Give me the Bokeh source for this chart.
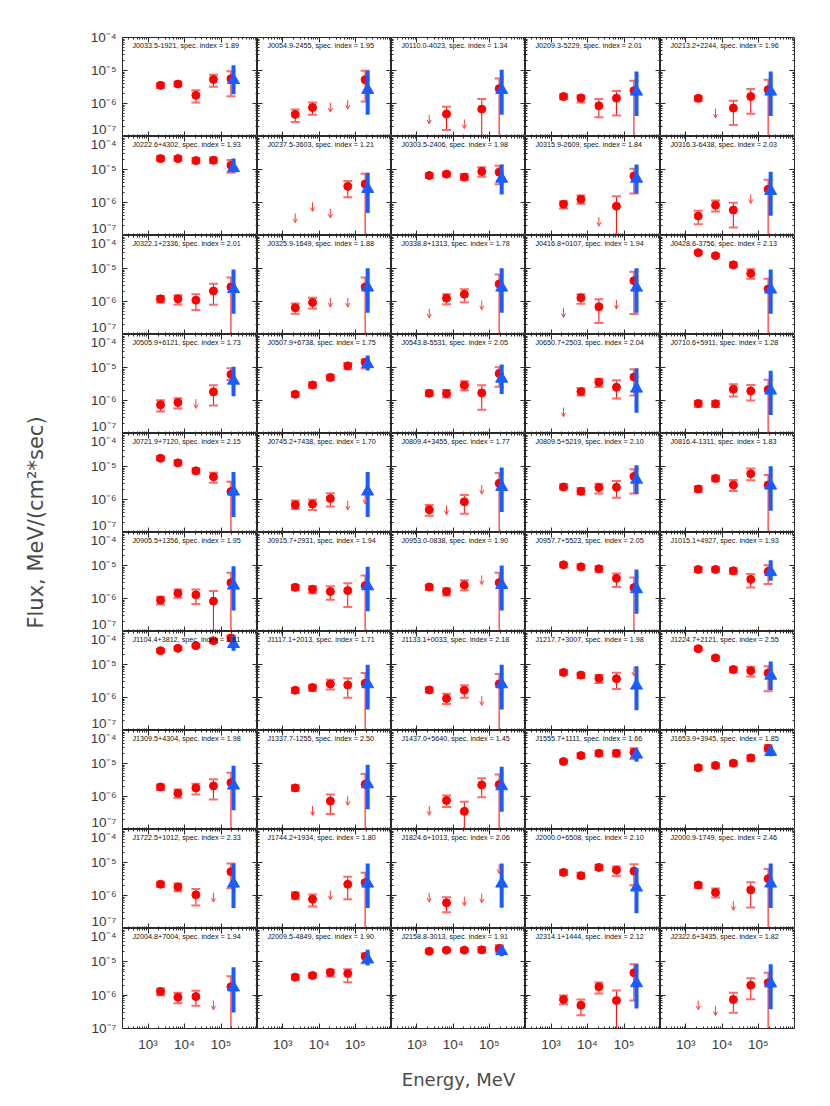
import math
from bokeh.plotting import figure
from bokeh.models import (Range1d, LogAxis, FixedTicker, CustomJSTickFormatter,
                          ColumnDataSource, Label, Arrow, OpenHead)
from bokeh.layouts import gridplot, row, column
from bokeh.embed import file_html
from bokeh.resources import INLINE

N = None     # no value
Z = -9.0     # error bar reaching zero (below the axis)

sources = ["J0033.5-1921", "J0054.9-2455", "J0110.0-4023", "J0209.3-5229", "J0213.2+2244",
           "J0222.6+4302", "J0237.5-3603", "J0303.5-2406", "J0315.9-2609", "J0316.3-6438",
           "J0322.1+2336", "J0325.9-1649", "J0338.8+1313", "J0416.8+0107", "J0428.6-3756",
           "J0505.9+6121", "J0507.9+6738", "J0543.8-5531", "J0650.7+2503", "J0710.6+5911",
           "J0721.9+7120", "J0745.2+7438", "J0809.4+3455", "J0809.5+5219", "J0816.4-1311",
           "J0905.5+1356", "J0915.7+2931", "J0953.0-0838", "J0957.7+5523", "J1015.1+4927",
           "J1104.4+3812", "J1117.1+2013", "J1133.1+0033", "J1217.7+3007", "J1224.7+2121",
           "J1309.5+4304", "J1337.7-1255", "J1437.0+5640", "J1555.7+1111", "J1653.9+3945",
           "J1722.5+1012", "J1744.2+1934", "J1824.6+1013", "J2000.0+6508", "J2000.9-1749",
           "J2004.8+7004", "J2009.5-4849", "J2158.8-3013", "J2314.1+1444", "J2322.6+3435"]
spec_index = [1.89, 1.95, 1.34, 2.01, 1.96, 1.93, 1.21, 1.98, 1.84, 2.03,
              2.01, 1.88, 1.78, 1.94, 2.13, 1.73, 1.75, 2.05, 2.04, 1.28,
              2.15, 1.70, 1.77, 2.10, 1.83, 1.95, 1.94, 1.90, 2.05, 1.93,
              1.81, 1.71, 2.18, 1.98, 2.55, 1.98, 2.50, 1.45, 1.66, 1.85,
              2.33, 1.80, 2.06, 2.10, 2.46, 1.94, 1.90, 1.91, 2.12, 1.82]

energy = [2.2e3, 6.6e3, 2.05e4, 6.2e4, 1.87e5]   # MeV, red points
blue_energy = 2.2e5                              # MeV, blue point

# log10 of flux, MeV/(cm^2*sec)
flux_log = [
    [-5.45, -5.41, -5.75, -5.27, -5.25], [-6.33, -6.12, N, N, -5.28], [N, -6.32, N, -6.17, -5.55],
    [-5.79, -5.83, -6.07, -5.84, -5.61], [-5.84, N, -6.14, -5.79, -5.58],
    [-4.67, -4.67, -4.73, -4.72, -4.87], [N, N, N, -5.51, -5.44], [-5.18, -5.14, -5.23, -5.06, -5.08],
    [-6.05, -5.90, N, -6.11, -5.20], [-6.41, -6.08, -6.23, N, -5.60],
    [-5.92, -5.92, -5.96, -5.68, -5.56], [-6.19, -6.03, N, N, -5.56], [N, -5.90, -5.78, N, -5.47],
    [N, -5.89, -6.16, N, -5.37], [-4.52, -4.61, -4.89, -5.15, -5.62],
    [-6.13, -6.06, N, -5.74, -5.21], [-5.81, -5.53, -5.30, -4.95, -4.84], [-5.78, -5.79, -5.54, -5.77, -5.18],
    [N, -5.73, -5.45, -5.60, -5.29], [-6.09, -6.10, -5.66, -5.71, -5.67],
    [-4.75, -4.89, -5.13, -5.31, -5.76], [-6.16, -6.14, -5.97, N, N], [-6.31, N, -6.07, N, -5.51],
    [-5.62, -5.75, -5.64, -5.63, -5.30], [-5.68, -5.36, -5.56, -5.22, -5.56],
    [-6.05, -5.84, -5.89, -6.08, -5.52], [-5.66, -5.72, -5.79, -5.76, -5.61], [-5.65, -5.79, -5.59, N, -5.52],
    [-4.98, -5.04, -5.10, -5.39, -5.67], [-5.12, -5.12, -5.16, -5.42, -5.18],
    [-4.58, -4.51, -4.43, -4.28, -4.20], [-5.78, -5.70, -5.59, -5.62, -5.57], [-5.77, -6.03, -5.78, N, -5.59],
    [-5.24, -5.32, -5.42, -5.43, N], [-4.52, -4.80, -5.15, -5.19, -5.26],
    [-5.71, -5.90, -5.74, -5.68, -5.58], [-5.74, N, -6.14, N, -5.63], [N, -6.12, -6.45, -5.65, -5.64],
    [-4.94, -4.76, -4.69, -4.69, -4.66], [-5.13, -5.06, -4.99, -4.83, -4.54],
    [-5.66, -5.74, -5.98, N, -5.28], [-6.00, -6.11, N, -5.66, -5.61], [N, -6.22, N, N, N],
    [-5.30, -5.40, -5.15, -5.23, -5.26], [-5.68, -5.91, N, -5.83, -5.49],
    [-5.89, -6.06, -6.04, N, -5.75], [-5.46, -5.41, -5.32, -5.35, -4.84], [-4.68, -4.65, -4.65, -4.64, -4.60],
    [-6.13, -6.30, -5.75, -6.16, -5.33], [N, N, -6.13, -5.70, -5.63],
]
err_lo_log = [
    [-5.53, -5.48, -5.97, -5.49, -5.78], [-6.56, -6.34, N, N, -5.94], [N, -6.80, N, Z, Z],
    [-5.87, -5.97, -6.42, -6.36, Z], [-5.93, N, -6.65, -6.31, Z],
    [-4.74, -4.74, -4.81, -4.81, -5.10], [N, N, N, -5.84, Z], [-5.26, -5.21, -5.32, -5.22, -5.45],
    [-6.18, -6.04, N, Z, -5.73], [-6.66, -6.27, -6.76, N, Z],
    [-6.03, -6.09, -6.26, -6.10, Z], [-6.37, -6.21, N, N, Z], [N, -6.08, -6.02, N, Z],
    [N, -6.07, -6.65, N, -6.38], [-4.57, -4.66, -4.96, -5.31, Z],
    [-6.33, -6.24, N, -6.15, -5.38], [-5.89, -5.61, -5.39, -5.05, -5.03], [-5.86, -5.91, -5.69, -6.28, -5.58],
    [N, -5.85, -5.59, -5.94, -5.85], [-6.20, -6.20, -5.88, -6.00, Z],
    [-4.81, -4.96, -5.21, -5.49, Z], [-6.29, -6.32, -6.21, N, N], [-6.49, N, -6.43, N, Z],
    [-5.69, -5.85, -5.82, -5.95, -5.82], [-5.77, -5.45, -5.74, -5.42, Z],
    [-6.18, -5.98, -6.17, Z, Z], [-5.75, -5.84, -6.04, -6.26, Z], [-5.74, -5.91, -5.75, N, Z],
    [-5.05, -5.11, -5.19, -5.65, Z], [-5.20, -5.19, -5.25, -5.67, -5.56],
    [-4.63, -4.56, -4.48, -4.34, -4.27], [-5.86, -5.80, -5.76, -6.01, Z], [-5.85, -6.20, -6.01, N, Z],
    [-5.31, -5.41, -5.56, -5.74, N], [-4.57, -4.86, -5.24, -5.36, -5.81],
    [-5.80, -6.04, -5.94, -6.09, Z], [-5.83, N, -6.53, N, Z], [N, -6.32, Z, -6.02, Z],
    [-4.99, -4.83, -4.77, -4.79, -4.86], [-5.20, -5.13, -5.06, -4.93, -4.64],
    [-5.74, -5.87, -6.30, N, -5.78], [-6.11, -6.33, N, -6.11, Z], [N, -6.51, N, N, N],
    [-5.38, -5.48, -5.23, -5.40, -5.69], [-5.77, -6.06, N, -6.36, Z],
    [-6.00, -6.24, -6.32, N, Z], [-5.53, -5.48, -5.44, -5.61, -5.04], [-4.73, -4.70, -4.70, -4.72, -4.70],
    [-6.27, -6.60, -5.95, Z, -6.16], [N, N, -6.53, -6.12, Z],
]
err_hi_log = [
    [-5.38, -5.34, -5.60, -5.13, -5.02], [-6.18, -5.97, N, N, -5.01], [N, -6.10, N, -5.86, -5.24],
    [-5.72, -5.76, -5.86, -5.62, -5.31], [-5.78, N, -5.92, -5.56, -5.28],
    [-4.59, -4.60, -4.65, -4.64, -4.71], [N, N, N, -5.35, -5.13], [-5.12, -5.08, -5.14, -4.93, -4.89],
    [-5.96, -5.79, N, -5.81, -4.98], [-6.25, -5.94, -6.01, N, -5.31],
    [-5.83, -5.81, -5.78, -5.46, -5.27], [-6.06, -5.89, N, N, -5.27], [N, -5.78, -5.63, N, -5.18],
    [N, -5.78, -5.93, N, -5.10], [-4.47, -4.56, -4.82, -5.02, -5.31],
    [-5.99, -5.93, N, -5.54, -5.02], [-5.74, -5.45, -5.22, -4.86, -4.76], [-5.70, -5.68, -5.42, -5.54, -4.99],
    [N, -5.63, -5.34, -5.39, -5.05], [-6.01, -6.01, -5.51, -5.53, -5.37],
    [-4.69, -4.82, -5.05, -5.19, -5.46], [-6.03, -6.01, -5.81, N, N], [-6.17, N, -5.86, N, -5.20],
    [-5.54, -5.65, -5.52, -5.44, -5.08], [-5.60, -5.28, -5.41, -5.06, -5.26],
    [-5.95, -5.73, -5.73, -5.77, -5.22], [-5.59, -5.63, -5.63, -5.54, -5.30], [-5.58, -5.69, -5.45, N, -5.22],
    [-4.92, -4.97, -5.02, -5.24, -5.36], [-5.05, -5.05, -5.08, -5.26, -4.99],
    [-4.53, -4.46, -4.38, -4.23, -4.12], [-5.71, -5.61, -5.46, -5.42, -5.26], [-5.70, -5.89, -5.63, N, -5.29],
    [-5.17, -5.25, -5.32, -5.25, N], [-4.47, -4.74, -5.08, -5.07, -5.05],
    [-5.64, -5.79, -5.61, -5.48, -5.28], [-5.66, N, -5.94, N, -5.32], [N, -5.97, -6.16, -5.45, -5.33],
    [-4.89, -4.69, -4.61, -4.60, -4.54], [-5.06, -4.99, -4.92, -4.75, -4.44],
    [-5.58, -5.64, -5.80, N, -5.03], [-5.91, -5.97, N, -5.43, -5.31], [N, -6.05, N, N, N],
    [-5.23, -5.31, -5.07, -5.12, -5.05], [-5.61, -5.79, N, -5.60, -5.20],
    [-5.80, -5.93, -5.87, N, -5.43], [-5.39, -5.34, -5.23, -5.22, -4.74], [-4.63, -4.60, -4.60, -4.56, -4.50],
    [-6.01, -6.13, -5.62, -5.86, -5.07], [N, N, -5.93, -5.49, -5.33],
]
# upper limits (log10)
ul_log = {
    1: [N, N, -5.98, -5.89, N], 2: [-6.34, N, -6.48, N, N], 4: [N, -6.16, N, N, N],
    6: [-6.33, -5.99, -6.19, N, N], 8: [N, N, -6.44, N, N], 9: [N, N, N, -5.75, N],
    11: [N, N, -5.89, -5.89, N], 12: [-6.22, N, N, -5.97, N], 13: [-6.20, N, N, -5.95, N],
    15: [N, N, -5.96, N, N], 18: [-6.21, N, N, N, N], 21: [N, N, N, -6.04, -5.85],
    22: [N, -6.18, N, -5.56, N], 27: [N, N, N, -5.30, N], 32: [N, N, N, -5.96, N],
    33: [N, N, N, N, -5.07], 36: [N, -6.29, N, -5.99, N], 37: [-6.29, N, N, N, N],
    40: [N, N, N, -5.92, N], 41: [N, N, -5.85, N, N], 42: [-5.92, N, -6.03, -5.94, -5.05],
    44: [N, N, -6.17, N, N], 45: [N, N, N, -6.16, N], 49: [-6.16, -6.33, N, N, N],
}
# blue point: [value, low end, high end] (log10)
blue_log = [
    [-5.29, -5.72, -4.84], [-5.59, -6.34, -5.01], [-5.59, -6.34, -4.98], [-5.64, -6.38, -5.03], [-5.64, -6.38, -5.03],
    [-4.96, -5.08, -4.67], [-5.59, -6.32, -5.10], [-5.28, -5.76, -4.85], [-5.28, -5.73, -4.85], [-5.65, -6.40, -5.07],
    [-5.62, -6.37, -5.03], [-5.58, -6.34, -4.99], [-5.58, -6.34, -4.99], [-5.58, -6.34, -4.99], [-5.64, -6.37, -5.03],
    [-5.40, -5.87, -4.98], [-4.90, -5.09, -4.64], [-5.34, -5.80, -4.91], [-5.64, -6.37, -5.03], [-5.70, -6.44, -5.10],
    [-5.76, -6.53, -5.17], [-5.76, -6.53, -5.17], [-5.62, -6.38, -5.03], [-5.40, -5.83, -4.96], [-5.58, -6.34, -4.99],
    [-5.61, -6.36, -5.02], [-5.63, -6.39, -5.04], [-5.59, -6.36, -5.00], [-5.72, -6.46, -5.12], [-5.20, -5.46, -4.84],
    [-4.38, -4.58, -4.12], [-5.60, -6.36, -5.01], [-5.60, -6.36, -5.01], [-5.64, -6.39, -5.05], [-5.34, -5.77, -4.91],
    [-5.67, -6.42, -5.07], [-5.63, -6.39, -5.04], [-5.69, -6.46, -5.10], [-4.73, -4.95, -4.60], [-4.65, -4.78, -4.47],
    [-5.64, -6.38, -5.03], [-5.64, -6.38, -5.03], [-5.64, -6.37, -5.03], [-5.76, -6.54, -5.17], [-5.64, -6.38, -5.03],
    [-5.77, -6.52, -5.16], [-4.93, -5.11, -4.64], [-4.68, -4.83, -4.51], [-5.64, -6.40, -5.07], [-5.65, -6.42, -5.07],
]

x_major = [1e3, 1e4, 1e5]
x_minor = [m * 10.0 ** e for e in (2, 3, 4, 5) for m in range(2, 10)]
y_major = [1e-7, 1e-6, 1e-5, 1e-4]
y_minor = [m * 10.0 ** e for e in (-7, -6, -5) for m in range(2, 10)]

RED = "#ff0000"
CAP = "#ff6a6a"
BLUE = "#1a5cff"
AX = "#2a2a2a"
TXT = "#3a3a3a"
FONT = "Liberation Sans"
BIGFONT = "DejaVu Sans"

W = [135, 134, 134, 135, 134]
H = [99] * 9 + [100]
LEFT, TOP, BOTTOM, YLW = 54, 37, 30, 68

SUP_JS = """
const e = Math.round(Math.log10(tick));
const m = {"-":"⁻","0":"⁰","1":"¹","2":"²","3":"³","4":"⁴","5":"⁵","6":"⁶","7":"⁷","8":"⁸","9":"⁹"};
return "10" + String(e).split("").map(c => m[c]).join("");
"""


def style_axis(ax, ticks, minor, show, standoff):
    ax.ticker = FixedTicker(ticks=ticks, minor_ticks=minor)
    ax.axis_line_color = None
    ax.major_tick_in = 5
    ax.major_tick_out = 0
    ax.minor_tick_in = 2
    ax.minor_tick_out = 0
    ax.major_tick_line_color = AX
    ax.minor_tick_line_color = AX
    if show:
        ax.formatter = CustomJSTickFormatter(code=SUP_JS)
        ax.major_label_text_font = FONT
        ax.major_label_text_font_size = "13.5px"
        ax.major_label_text_color = TXT
        ax.major_label_standoff = standoff
    else:
        ax.major_label_text_color = None
        ax.major_label_standoff = 0


def lg(v):
    return 10.0 ** v


panels = []
for i in range(50):
    r, c = divmod(i, 5)
    p = figure(x_axis_type="log", y_axis_type="log",
               x_range=Range1d(2e2, 1e6), y_range=Range1d(1e-7, 1e-4),
               frame_width=W[c], frame_height=H[r],
               min_border_left=LEFT if c == 0 else 0,
               min_border_right=2 if c == 4 else 0,
               min_border_top=TOP if r == 0 else 0,
               min_border_bottom=BOTTOM if r == 9 else 0,
               toolbar_location=None, output_backend="svg",
               background_fill_color="white", border_fill_color="white",
               outline_line_color=AX, outline_line_width=1)
    p.grid.visible = False
    p.add_layout(LogAxis(), "right")
    p.add_layout(LogAxis(), "above")
    style_axis(p.below[0], x_major, x_minor, r == 9, 8)
    style_axis(p.above[0], x_major, x_minor, False, 0)
    style_axis(p.left[0], y_major, y_minor, c == 0, 6)
    style_axis(p.right[0], y_major, y_minor, False, 0)

    # red points with error bars
    xs, ys, los, his = [], [], [], []
    for k in range(5):
        if flux_log[i][k] is not None:
            xs.append(energy[k])
            ys.append(lg(flux_log[i][k]))
            los.append(lg(err_lo_log[i][k]))
            his.append(lg(err_hi_log[i][k]))
    src = ColumnDataSource(dict(x=xs, y=ys, lo=los, hi=his))
    p.segment(x0="x", y0="lo", x1="x", y1="hi", source=src, line_color=RED, line_width=1)
    p.scatter(x="x", y="lo", source=src, marker="dash", size=9, line_color=CAP, line_width=2)
    p.scatter(x="x", y="hi", source=src, marker="dash", size=9, line_color=CAP, line_width=2)
    p.scatter(x="x", y="y", source=src, marker="circle", size=8, fill_color=RED, line_color=RED)

    # upper limits
    if i in ul_log:
        ux, u0, u1 = [], [], []
        for k in range(5):
            if ul_log[i][k] is not None:
                ux.append(energy[k])
                u0.append(lg(ul_log[i][k]))
                u1.append(lg(ul_log[i][k] - 0.28))
        usrc = ColumnDataSource(dict(x=ux, y0=u0, y1=u1))
        p.add_layout(Arrow(x_start="x", y_start="y0", x_end="x", y_end="y1", source=usrc,
                           line_color="#ff3b3b", line_width=1,
                           end=OpenHead(size=4, line_color="#ff3b3b", line_width=1)))

    # blue point
    bsrc = ColumnDataSource(dict(x=[blue_energy], y=[lg(blue_log[i][0])],
                                 lo=[lg(blue_log[i][1])], hi=[lg(blue_log[i][2])]))
    p.segment(x0="x", y0="lo", x1="x", y1="hi", source=bsrc, line_color=BLUE, line_width=4)
    p.scatter(x="x", y="y", source=bsrc, marker="triangle", size=12, fill_color=BLUE, line_color=BLUE)

    p.add_layout(Label(x=10, y=H[r] - 8, x_units="screen", y_units="screen",
                       text=f"{sources[i]}, spec. index = {spec_index[i]:.2f}",
                       text_font=FONT, text_font_size="7.2px", text_color="#111111",
                       text_baseline="middle", text_align="left"))
    panels.append(p)

grid = gridplot(panels, ncols=5, toolbar_location=None)

total_h = TOP + sum(H) + BOTTOM
yl = figure(width=YLW, height=total_h, x_range=Range1d(0, YLW), y_range=Range1d(0, total_h),
            min_border=0, toolbar_location=None, output_backend="svg",
            x_axis_location=None, y_axis_location=None, outline_line_color=None)
yl.grid.visible = False
yl.add_layout(Label(x=35, y=total_h - 522, text="Flux, MeV/(cm²*sec)", angle=math.pi / 2,
                    text_align="center", text_baseline="middle", text_font=BIGFONT,
                    text_font_size="21px", text_color="#4a4a4a"))

XLH = 36
xl = figure(frame_width=sum(W), frame_height=XLH, min_border_left=LEFT, min_border_right=2,
            min_border_top=0, min_border_bottom=0,
            x_range=Range1d(0, 1), y_range=Range1d(0, XLH), toolbar_location=None,
            output_backend="svg", x_axis_location=None, y_axis_location=None,
            outline_line_color=None)
xl.grid.visible = False
xl.add_layout(Label(x=0.5, y=XLH - 21, text="Energy, MeV", text_align="center",
                    text_baseline="middle", text_font=BIGFONT, text_font_size="18px",
                    text_color="#4a4a4a"))

layout = row(yl, column(grid, xl))
open("out.html", "w").write(file_html(layout, INLINE, title="Spectra"))
